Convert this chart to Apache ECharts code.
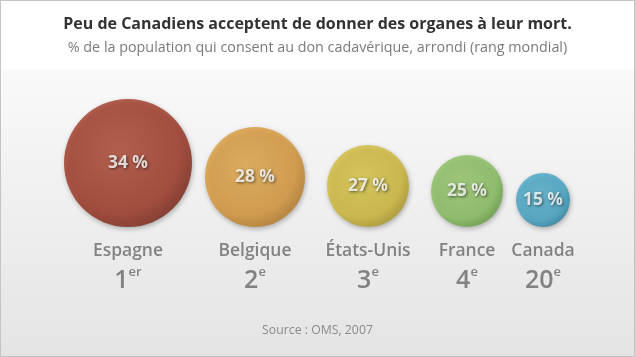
<!DOCTYPE html>
<html><head><meta charset="utf-8">
<script src="https://cdn.jsdelivr.net/npm/echarts@6/dist/echarts.min.js"></script>
<style>html,body{margin:0;padding:0;background:#fff}#c{width:635px;height:357px}</style>
</head><body><div id="c"></div>
<script>
const countries = ['Espagne', 'Belgique', 'États-Unis', 'France', 'Canada'];
const percents = [34, 28, 27, 25, 15];
const ranks = ['1', '2', '3', '4', '20'];
const rankSuffix = ['er', 'e', 'e', 'e', 'e'];
const titleText = 'Peu de Canadiens acceptent de donner des organes à leur mort.';
const subtitleText = '% de la population qui consent au don cadavérique, arrondi (rang mondial)';
const sourceText = 'Source : OMS, 2007';

// styling / layout (not data)
const diameters = [128, 100, 82, 72, 54];
const gaps = [13, 22, 22, 13];
const startX = 64;
const palette = [
  ['#b04a36', '#9f3623', '#7c2515'],
  ['#e6aa4a', '#d89738', '#bb7c28'],
  ['#ddc946', '#d0ba38', '#b09a26'],
  ['#9acb6c', '#88bf5e', '#69a044'],
  ['#55b2d0', '#41a3c4', '#2a83a3']
];

const FONT = '"Open Sans","Noto Sans",sans-serif';
const cnv = document.createElement('canvas').getContext('2d');
function fit(text, weight, target) {
  cnv.font = weight + ' 100px ' + FONT;
  return 100 * target / cnv.measureText(text).width;
}
const titleSize = fit(titleText, 'bold', 509);
const subSize = fit(subtitleText, 'normal', 500);
const nameSize = fit('Espagne', '600', 70);
const srcSize = fit(sourceText, 'normal', 111);
const pctSize = fit('34 %', 'bold', 40);

const centers = [];
let cx = startX;
diameters.forEach((d, i) => {
  centers.push(cx + d / 2);
  cx += d + (gaps[i] || 0);
});

const bubbleData = countries.map((n, i) => ({
  name: n,
  value: [centers[i], 0, percents[i]],
  symbolSize: diameters[i],
  symbolOffset: [0, -diameters[i] / 2],
  itemStyle: {
    color: new echarts.graphic.RadialGradient(0.42, 0.4, 0.62, [
      {offset: 0, color: palette[i][0]},
      {offset: 0.78, color: palette[i][1]},
      {offset: 1, color: palette[i][2]}
    ]),
    shadowBlur: 5, shadowColor: 'rgba(0,0,0,0.35)', shadowOffsetX: 1, shadowOffsetY: 2
  }
}));

const labelData = countries.map((n, i) => ({
  name: n,
  value: [centers[i], 0],
  rank: ranks[i], suf: rankSuffix[i]
}));

const chart = echarts.init(document.getElementById('c'), null, {renderer: 'canvas'});
chart.setOption({
  backgroundColor: new echarts.graphic.LinearGradient(0, 0, 0, 1, [
    {offset: 0, color: '#ffffff'},
    {offset: 0.19, color: '#ffffff'},
    {offset: 0.2, color: '#f9f9f9'},
    {offset: 1, color: '#e4e4e4'}
  ]),
  animation: false,
  title: [
    {text: titleText, left: 'center', top: 11,
     textStyle: {fontFamily: FONT, fontSize: titleSize, fontWeight: 'bold', color: '#333'}},
    {text: subtitleText, left: 'center', top: 36,
     textStyle: {fontFamily: FONT, fontSize: subSize, fontWeight: 'normal', color: '#7a7a7a'}},
    {text: sourceText, left: 'center', top: 320,
     textStyle: {fontFamily: FONT, fontSize: srcSize, fontWeight: 'normal', color: '#8a8a8a'}}
  ],
  grid: {left: 0, right: 0, top: 0, bottom: 130},
  xAxis: {type: 'value', min: 0, max: 635, show: false},
  yAxis: {type: 'value', min: 0, max: 1, show: false},
  series: [
    {
      type: 'scatter', data: bubbleData, z: 3,
      label: {
        show: true, position: 'inside',
        formatter: p => p.value[2] + ' %',
        color: '#fff', fontFamily: FONT, fontWeight: 'bold', fontSize: pctSize,
        textShadowColor: 'rgba(0,0,0,0.7)', textShadowBlur: 3, textShadowOffsetX: 1, textShadowOffsetY: 1
      }
    },
    {
      type: 'scatter', data: labelData, symbolSize: 1, itemStyle: {color: 'rgba(0,0,0,0)'}, z: 2,
      label: {
        show: true, position: 'bottom', distance: 10,
        formatter: p => '{n|' + p.data.name + '}\n{r|' + p.data.rank + '}{s|' + p.data.suf + '}',
        rich: {
          n: {fontFamily: FONT, fontSize: nameSize, fontWeight: 600, color: '#686868', lineHeight: 28, align: 'center'},
          r: {fontFamily: FONT, fontSize: 25, fontWeight: 600, color: '#686868', lineHeight: 30},
          s: {fontFamily: FONT, fontSize: 13, fontWeight: 600, color: '#686868', verticalAlign: 'top', padding: [0, 0, 10, 0]}
        }
      }
    }
  ]
});
</script>
<div style="position:absolute;left:0;top:0;width:633px;height:355px;border:1px solid #c4c4c4;pointer-events:none"></div>
</body></html>
